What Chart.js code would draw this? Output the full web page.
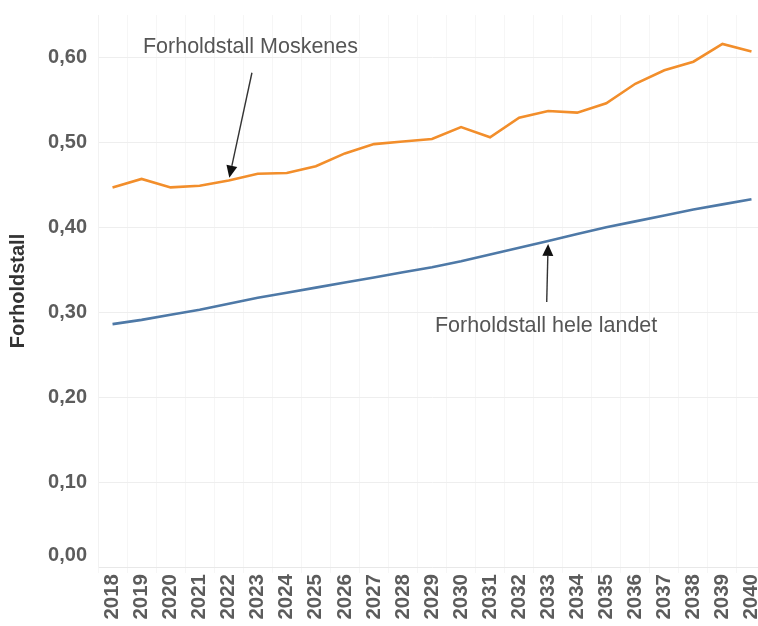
<!DOCTYPE html>
<html>
<head>
<meta charset="utf-8">
<script src="https://cdn.jsdelivr.net/npm/chart.js@4"></script>
<style>
  html, body { margin: 0; padding: 0; background: #fff; overflow: hidden; }
  #wrap { width: 766px; height: 626px; position: relative; }
</style>
</head>
<body>
<div id="wrap"><canvas id="c"></canvas></div>
<script>
const years = ['2018','2019','2020','2021','2022','2023','2024','2025','2026','2027','2028','2029','2030','2031','2032','2033','2034','2035','2036','2037','2038','2039','2040'];
const moskenes = [0.447,0.457,0.447,0.449,0.455,0.463,0.464,0.472,0.487,0.498,0.501,0.504,0.518,0.506,0.529,0.537,0.535,0.546,0.569,0.585,0.595,0.616,0.607];
const heleLandet = [0.286,0.291,0.297,0.303,0.310,0.317,0.323,0.329,0.335,0.341,0.347,0.353,0.360,0.368,0.376,0.384,0.392,0.400,0.407,0.414,0.421,0.427,0.433];
const yTicks = [0, 0.1, 0.2, 0.3, 0.4, 0.5, 0.6];
const annotations = [
  { text: 'Forholdstall Moskenes', series: 0, idx: 4, textX: 4.75, textY: 0.612, tailX: 4.8, tailY: 0.582 },
  { text: 'Forholdstall hele landet', series: 1, idx: 15, textX: 14.93, textY: 0.284, tailX: 14.95, tailY: 0.312 }
];
const FONT = '"Liberation Sans", Arial, sans-serif';

const annotPlugin = {
  id: 'annot',
  afterDatasetsDraw(chart) {
    const ctx = chart.ctx, xs = chart.scales.x, ys = chart.scales.y;
    const data = [moskenes, heleLandet];
    const px = v => xs.getPixelForValue(0) + (xs.getPixelForValue(1) - xs.getPixelForValue(0)) * v;
    annotations.forEach(a => {
      const lx = xs.getPixelForValue(a.idx);
      const ly = ys.getPixelForValue(data[a.series][a.idx]);
      const tx = px(a.tailX), ty = ys.getPixelForValue(a.tailY);
      const ang = Math.atan2(ly - ty, lx - tx);
      const tipX = lx - 3 * Math.cos(ang), tipY = ly - 3 * Math.sin(ang);
      ctx.save();
      ctx.strokeStyle = '#333'; ctx.fillStyle = '#111'; ctx.lineWidth = 1.4;
      const hl = 12, hw = 5.5;
      const bx = tipX - hl * Math.cos(ang), by = tipY - hl * Math.sin(ang);
      ctx.beginPath(); ctx.moveTo(tx, ty); ctx.lineTo(bx, by); ctx.stroke();
      ctx.beginPath();
      ctx.moveTo(tipX, tipY);
      ctx.lineTo(bx + hw * Math.sin(ang), by - hw * Math.cos(ang));
      ctx.lineTo(bx - hw * Math.sin(ang), by + hw * Math.cos(ang));
      ctx.closePath(); ctx.fill();
      ctx.font = '21.5px ' + FONT;
      ctx.fillStyle = '#555555'; ctx.textAlign = 'center'; ctx.textBaseline = 'middle';
      ctx.fillText(a.text, px(a.textX), ys.getPixelForValue(a.textY));
      ctx.restore();
    });
  }
};

new Chart(document.getElementById('c'), {
  type: 'line',
  data: {
    labels: years,
    datasets: [
      { label: 'Forholdstall Moskenes', data: moskenes, borderColor: '#F28E2B', borderWidth: 2.6, pointRadius: 0, tension: 0 },
      { label: 'Forholdstall hele landet', data: heleLandet, borderColor: '#4E79A7', borderWidth: 2.6, pointRadius: 0, tension: 0 }
    ]
  },
  options: {
    responsive: true,
    maintainAspectRatio: false,
    animation: false,
    layout: { padding: { top: 15, left: 0, right: 0, bottom: 0 } },
    plugins: { legend: { display: false }, tooltip: { enabled: false } },
    scales: {
      x: {
        offset: true,
        grid: { offset: true, color: '#f6f6f6', drawTicks: true, tickLength: 6 },
        border: { color: '#e8e8e8' },
        ticks: {
          minRotation: 90, maxRotation: 90, autoSkip: false, padding: 1,
          color: '#5c5c5c', font: { family: FONT, size: 20.5, weight: 'bold' }
        },
        afterFit(s) { s.height = 59; s.paddingLeft = 0; s.paddingRight = 0; }
      },
      y: {
        min: 0, max: 0.65,
        afterBuildTicks(s) { s.ticks = yTicks.map(v => ({ value: v })); },
        grid: { color: '#eeeeee', drawTicks: false },
        border: { color: '#f2f2f2' },
        ticks: {
          padding: 11,
          color: '#5c5c5c', font: { family: FONT, size: 20, weight: 'bold' },
          callback: v => v === 0 ? ['0,00', ''] : v.toFixed(2).replace('.', ',')
        },
        title: {
          display: true, text: 'Forholdstall', color: '#333',
          font: { family: FONT, size: 20, weight: 'bold' },
          padding: { top: 6, bottom: 0 }
        },
        afterFit(s) { s.width = 98; s.paddingTop = 0; s.paddingBottom = 0; }
      }
    }
  },
  plugins: [annotPlugin]
});
</script>
</body>
</html>
